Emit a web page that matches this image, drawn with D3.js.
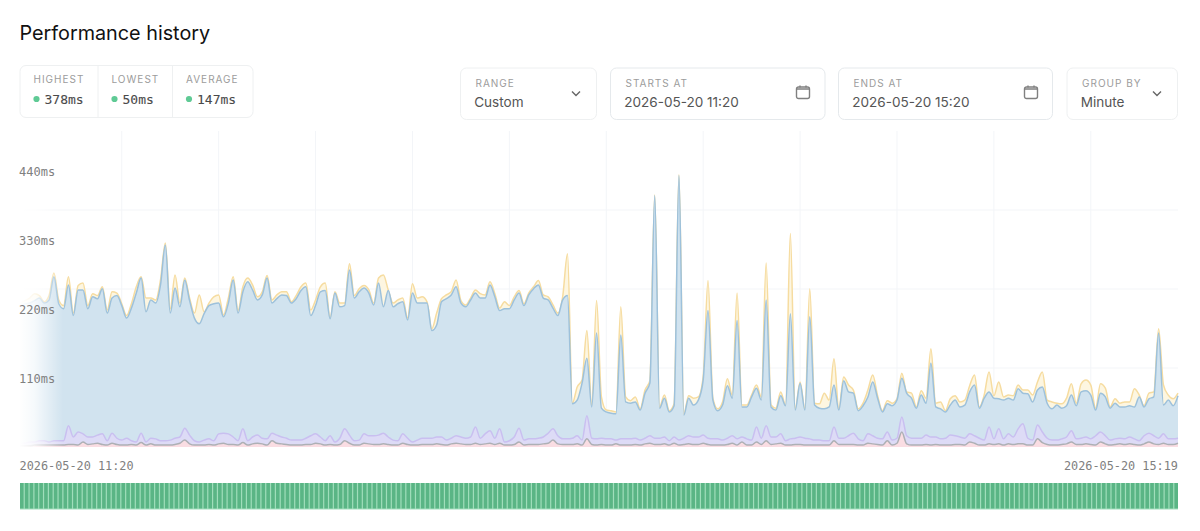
<!DOCTYPE html>
<html>
<head>
<meta charset="utf-8">
<script src="https://cdn.jsdelivr.net/npm/d3@7"></script>
<style>
    html, body { margin: 0; padding: 0; background: #fff; }
    svg { display: block; }
    .ui { font-family: Inter, "Noto Sans", sans-serif; }
    .mono { font-family: "DejaVu Sans Mono", monospace; }
</style>
</head>
<body>
<svg class="perf-graph" width="1200" height="531"></svg>
<script>
// Values, one per minute, in ms
const p95Ms = [
    230,234,238,245,242,232,242,278,235,226, 272,214,258,262,226,245,242,256,219,248,
    246,229,210,229,256,272,238,238,235,267, 326,221,275,230,270,238,214,243,216,230,
    240,243,211,238,272,218,256,270,259,240, 248,274,235,243,248,248,232,242,256,262,
    219,235,256,262,206,248,230,230,293,242, 253,258,251,230,270,275,251,230,235,238,
    206,261,238,240,232,189,214,237,243,248, 267,234,227,238,251,245,243,264,245,222,
    232,226,240,250,229,246,256,266,243,240, 227,214,240,309,70,96,107,186,67,234,
    80,59,58,56,224,80,74,80,61,91, 106,403,64,83,58,69,435,53,82,78,
    80,112,266,78,61,72,109,83,246,67, 67,83,99,80,294,67,62,88,67,341,
    61,104,61,253,70,69,86,75,141,61, 112,99,91,61,70,91,115,82,58,74,
    70,77,118,88,86,64,90,78,157,70, 72,58,77,82,72,75,98,115,64,83,
    120,82,104,80,83,82,99,91,91,83, 104,120,75,72,70,69,78,101,70,101,
    107,99,62,101,94,64,77,70,72,72, 93,83,66,86,88,189,99,83,77,86
];
const p75Ms = [
    227,229,230,234,238,230,235,272,229,221, 259,210,251,251,221,240,237,253,214,238,
    242,226,206,222,246,270,216,235,230,259, 323,214,254,224,267,234,206,197,213,226,
    229,230,208,230,267,214,248,264,251,235, 243,270,230,237,243,242,230,237,250,256,
    210,226,248,250,205,246,224,226,283,238, 248,254,246,227,262,224,250,224,229,232,
    203,246,230,230,230,186,195,232,237,243, 256,230,224,235,246,238,238,259,240,218,
    221,221,235,246,226,243,253,259,238,235, 222,210,235,242,69,75,102,142,64,182,
    62,56,54,53,179,72,70,72,59,86, 102,402,62,78,56,66,434,51,78,67,
    75,107,218,75,58,67,98,78,202,64, 64,80,94,75,235,64,59,82,66,213,
    59,102,59,208,67,62,61,64,99,59, 106,88,86,58,66,80,104,78,56,69,
    66,75,110,86,78,62,83,70,134,64, 61,56,67,75,64,67,88,99,62,78,
    88,78,77,75,78,75,93,86,85,72, 91,96,70,61,67,62,66,83,66,88,
    90,83,59,86,80,62,70,64,64,66, 64,80,64,77,80,182,67,75,66,82
];
const p50Ms = [
    6,6,8,8,10,10,8,10,10,10, 34,16,24,21,16,16,19,21,10,22,
    14,11,14,10,8,22,8,14,13,10, 10,11,14,16,30,19,10,8,11,13,
    10,21,22,21,16,10,29,10,16,19, 14,13,22,19,16,14,11,11,11,14,
    18,21,16,10,18,8,14,29,19,10, 11,21,18,18,19,22,16,11,10,21,
    14,8,11,14,14,14,16,16,11,14, 18,16,14,16,32,14,21,26,14,29,
    8,10,16,30,11,13,13,14,16,22, 29,18,13,13,14,18,11,50,14,13,
    14,13,13,11,13,13,13,14,11,14, 18,14,14,16,10,16,11,14,18,16,
    16,19,14,13,13,11,14,18,13,16, 13,11,32,14,34,16,16,21,10,13,
    14,16,14,13,11,11,10,10,32,14, 14,18,22,13,10,21,18,14,13,24,
    11,14,48,18,14,14,14,19,16,16, 13,14,19,18,16,14,21,18,14,11,
    32,13,29,13,21,16,29,37,14,11, 35,24,14,11,11,13,16,26,13,14,
    16,13,18,24,18,11,13,14,13,16, 13,10,18,22,18,14,21,13,13,14
];
const minMs = [
    2,2,2,3,3,3,3,3,3,3, 4,4,3,8,4,5,6,4,3,6,
    4,3,3,4,3,7,3,5,3,3, 3,3,4,6,11,5,3,3,3,4,
    3,5,6,4,4,3,7,3,5,6, 5,3,10,6,5,4,3,3,3,4,
    4,6,5,3,4,3,4,10,6,3, 3,6,5,4,4,5,4,3,3,6,
    4,3,3,4,4,4,5,4,3,5, 6,5,4,4,6,4,5,6,4,6,
    3,3,4,8,3,4,4,4,5,6, 11,5,4,4,4,5,3,13,4,3,
    4,3,3,5,3,3,3,4,3,5, 6,4,4,5,3,6,3,4,5,4,
    4,6,4,3,3,3,4,6,3,8, 3,3,8,4,10,4,5,6,3,3,
    4,4,3,3,3,3,3,3,10,4, 4,4,4,3,3,6,5,4,3,10,
    3,6,24,5,3,3,3,4,3,4, 3,3,3,4,4,3,8,6,3,3,
    5,4,5,3,5,4,5,5,3,3, 13,7,4,3,3,4,5,8,4,4,
    5,4,3,8,5,3,4,5,4,5, 4,3,5,8,5,4,6,4,4,6
];

const yTicks = [110, 220, 330, 440];
const gridMinutes = [21, 41, 61, 81, 101, 121, 141, 161, 181, 201, 221];
const gridLevels = [0.25, 0.5, 0.75];
const startLabel = '2026-05-20 11:20';
const endLabel = '2026-05-20 15:19';

const statNames = ['HIGHEST', 'LOWEST', 'AVERAGE'];
const statValues = ['378ms', '50ms', '147ms'];
const controlLabels = ['RANGE', 'STARTS AT', 'ENDS AT', 'GROUP BY'];
const controlValues = ['Custom', '2026-05-20 11:20', '2026-05-20 15:20', 'Minute'];
const controlKinds = ['select', 'date', 'date', 'select'];

const svg = d3.select('.perf-graph');

/* Title */
svg.append('text')
    .attr('class', 'ui')
    .attr('x', 19.5)
    .attr('y', 39.5)
    .attr('font-size', 19.8)
    .attr('fill', '#111')
    .text('Performance history');

/* Stats box */
const statX = [20, 98, 172.5];
svg.append('rect')
    .attr('x', 20).attr('y', 65.5)
    .attr('width', 233).attr('height', 52)
    .attr('rx', 6)
    .attr('fill', '#fff')
    .attr('stroke', '#eef0f1');
const stats = svg.selectAll('.stat')
    .data(statNames)
    .enter()
    .append('g')
    .attr('class', 'stat')
    .attr('transform', (d, i) => `translate(${statX[i]},65.5)`);
stats.filter((d, i) => i > 0).append('line')
    .attr('y1', 0).attr('y2', 52)
    .attr('stroke', '#eef0f1');
stats.append('text')
    .attr('class', 'ui')
    .attr('x', 13.5)
    .attr('y', 17.5)
    .attr('font-size', 10)
    .attr('letter-spacing', 1)
    .attr('fill', '#9c9c9c')
    .text((d) => d);
stats.append('circle')
    .attr('cx', 16.5)
    .attr('cy', 33.5)
    .attr('r', 3.1)
    .attr('fill', '#5fca95');
stats.append('text')
    .attr('class', 'mono')
    .attr('x', 24.5)
    .attr('y', 38.5)
    .attr('font-size', 13)
    .attr('fill', '#4a4a4a')
    .attr('stroke', '#4a4a4a')
    .attr('stroke-width', 0.1)
    .text((d, i) => statValues[i]);

/* Controls */
const ctrlX = [460.5, 610.5, 838.5, 1067];
const ctrlW = [136, 214.5, 214, 110.5];
const controls = svg.selectAll('.control')
    .data(controlLabels)
    .enter()
    .append('g')
    .attr('class', 'control')
    .attr('transform', (d, i) => `translate(${ctrlX[i]},68)`);
controls.append('rect')
    .attr('width', (d, i) => ctrlW[i])
    .attr('height', 51.5)
    .attr('rx', 6)
    .attr('fill', '#fff')
    .attr('stroke', (d, i) => controlKinds[i] === 'date' ? '#e5e9ec' : '#eef0f1');
controls.append('text')
    .attr('class', 'ui')
    .attr('x', 15)
    .attr('y', 19)
    .attr('font-size', 10)
    .attr('letter-spacing', 1)
    .attr('fill', '#9c9c9c')
    .text((d) => d);
controls.append('text')
    .attr('class', 'ui')
    .attr('x', 13.7)
    .attr('y', 39)
    .attr('font-size', 13.55)
    .attr('fill', '#555')
    .text((d, i) => controlValues[i]);
// chevrons on the selects
controls.filter((d, i) => controlKinds[i] === 'select').append('path')
    .attr('d', 'M0,0 L4,4 L8,0')
    .attr('transform', (d) => `translate(${d === 'RANGE' ? 111.5 : 86},23.5)`)
    .attr('fill', 'none')
    .attr('stroke', '#666')
    .attr('stroke-width', 1.4);
// calendar icons on the date inputs
const calendars = controls.filter((d, i) => controlKinds[i] === 'date').append('g')
    .attr('transform', 'translate(186,17.5)')
    .attr('fill', 'none')
    .attr('stroke', '#808080')
    .attr('stroke-width', 1.4);
calendars.append('rect').attr('width', 13).attr('height', 11.5).attr('y', 1.5).attr('rx', 2);
calendars.append('path').attr('d', 'M0,3.5 H13 M3.5,0 V2 M9.5,0 V2');

/* Scales */
const xScale = d3.scaleLinear().domain([0, p95Ms.length - 1]).range([20, 1178]);
const yScale = d3.scaleLinear().domain([0, 505]).range([447, 131]);

/* Grid */
const gridColor = '#f3f5f8';
svg.append('g').selectAll('line')
    .data(gridMinutes)
    .enter()
    .append('line')
    .attr('x1', (d) => xScale(d)).attr('x2', (d) => xScale(d))
    .attr('y1', 131).attr('y2', 447)
    .attr('stroke', gridColor);
svg.append('g').selectAll('line')
    .data(gridLevels)
    .enter()
    .append('line')
    .attr('x1', 24).attr('x2', 1178)
    .attr('y1', (d) => 447 - 316 * d).attr('y2', (d) => 447 - 316 * d)
    .attr('stroke', gridColor);

/* Series, back to front */
const layers = [
    {values: p95Ms, line: '#f6dca0', fill: '#fdf6e1'},
    {values: p75Ms, line: '#9dc1db', fill: '#d1e3ef'},
    {values: p50Ms, line: '#c9bff0', fill: '#dddbf6'},
    {values: minMs, line: '#adb0b5', fill: '#fadde3'}
];
const area = d3.area()
    .x((d, i) => xScale(i))
    .y0(yScale(0))
    .y1((d) => yScale(d))
    .curve(d3.curveMonotoneX);
const line = d3.line()
    .x((d, i) => xScale(i))
    .y((d) => yScale(d))
    .curve(d3.curveMonotoneX);
layers.forEach((layer) => {
    svg.append('path')
        .attr('d', area(layer.values))
        .attr('fill', layer.fill);
    svg.append('path')
        .attr('d', line(layer.values))
        .attr('fill', 'none')
        .attr('stroke', layer.line)
        .attr('stroke-width', 1.5);
});

/* White fade over the left edge of the plot */
const fade = svg.append('defs').append('linearGradient').attr('id', 'left-fade');
fade.append('stop').attr('offset', '0%').attr('stop-color', '#fff').attr('stop-opacity', 1);
fade.append('stop').attr('offset', '35%').attr('stop-color', '#fff').attr('stop-opacity', 0.8);
fade.append('stop').attr('offset', '100%').attr('stop-color', '#fff').attr('stop-opacity', 0);
svg.append('rect')
    .attr('x', 19).attr('y', 131)
    .attr('width', 44).attr('height', 318)
    .attr('fill', 'url(#left-fade)');

/* Axes */
const yAxis = svg.append('g')
    .attr('transform', 'translate(19,0)')
    .call(d3.axisRight(yScale).tickValues(yTicks).tickSize(0).tickPadding(0).tickFormat((d) => `${d}ms`));
yAxis.select('.domain').remove();
yAxis.selectAll('text')
    .attr('class', 'mono')
    .attr('font-size', 12)
    .attr('fill', '#808080');

svg.selectAll('.x-label')
    .data([startLabel, endLabel])
    .enter()
    .append('text')
    .attr('class', 'x-label mono')
    .attr('x', (d, i) => i === 0 ? 19.5 : 1178)
    .attr('y', 469.5)
    .attr('text-anchor', (d, i) => i === 0 ? 'start' : 'end')
    .attr('font-size', 11.85)
    .attr('fill', '#808080')
    .text((d) => d);

/* Status strip: one bar per minute */
const bandScale = d3.scaleBand()
    .domain(p95Ms.map((d, i) => i))
    .range([20, 1178])
    .paddingInner(0.25);
svg.append('rect')
    .attr('x', 20).attr('y', 483)
    .attr('width', 1158).attr('height', 26.5)
    .attr('fill', '#a0debb');
svg.append('g').selectAll('rect')
    .data(bandScale.domain())
    .enter()
    .append('rect')
    .attr('x', (d) => bandScale(d))
    .attr('y', 483)
    .attr('width', bandScale.bandwidth())
    .attr('height', 25.5)
    .attr('fill', '#5ab585');
</script>
</body>
</html>
